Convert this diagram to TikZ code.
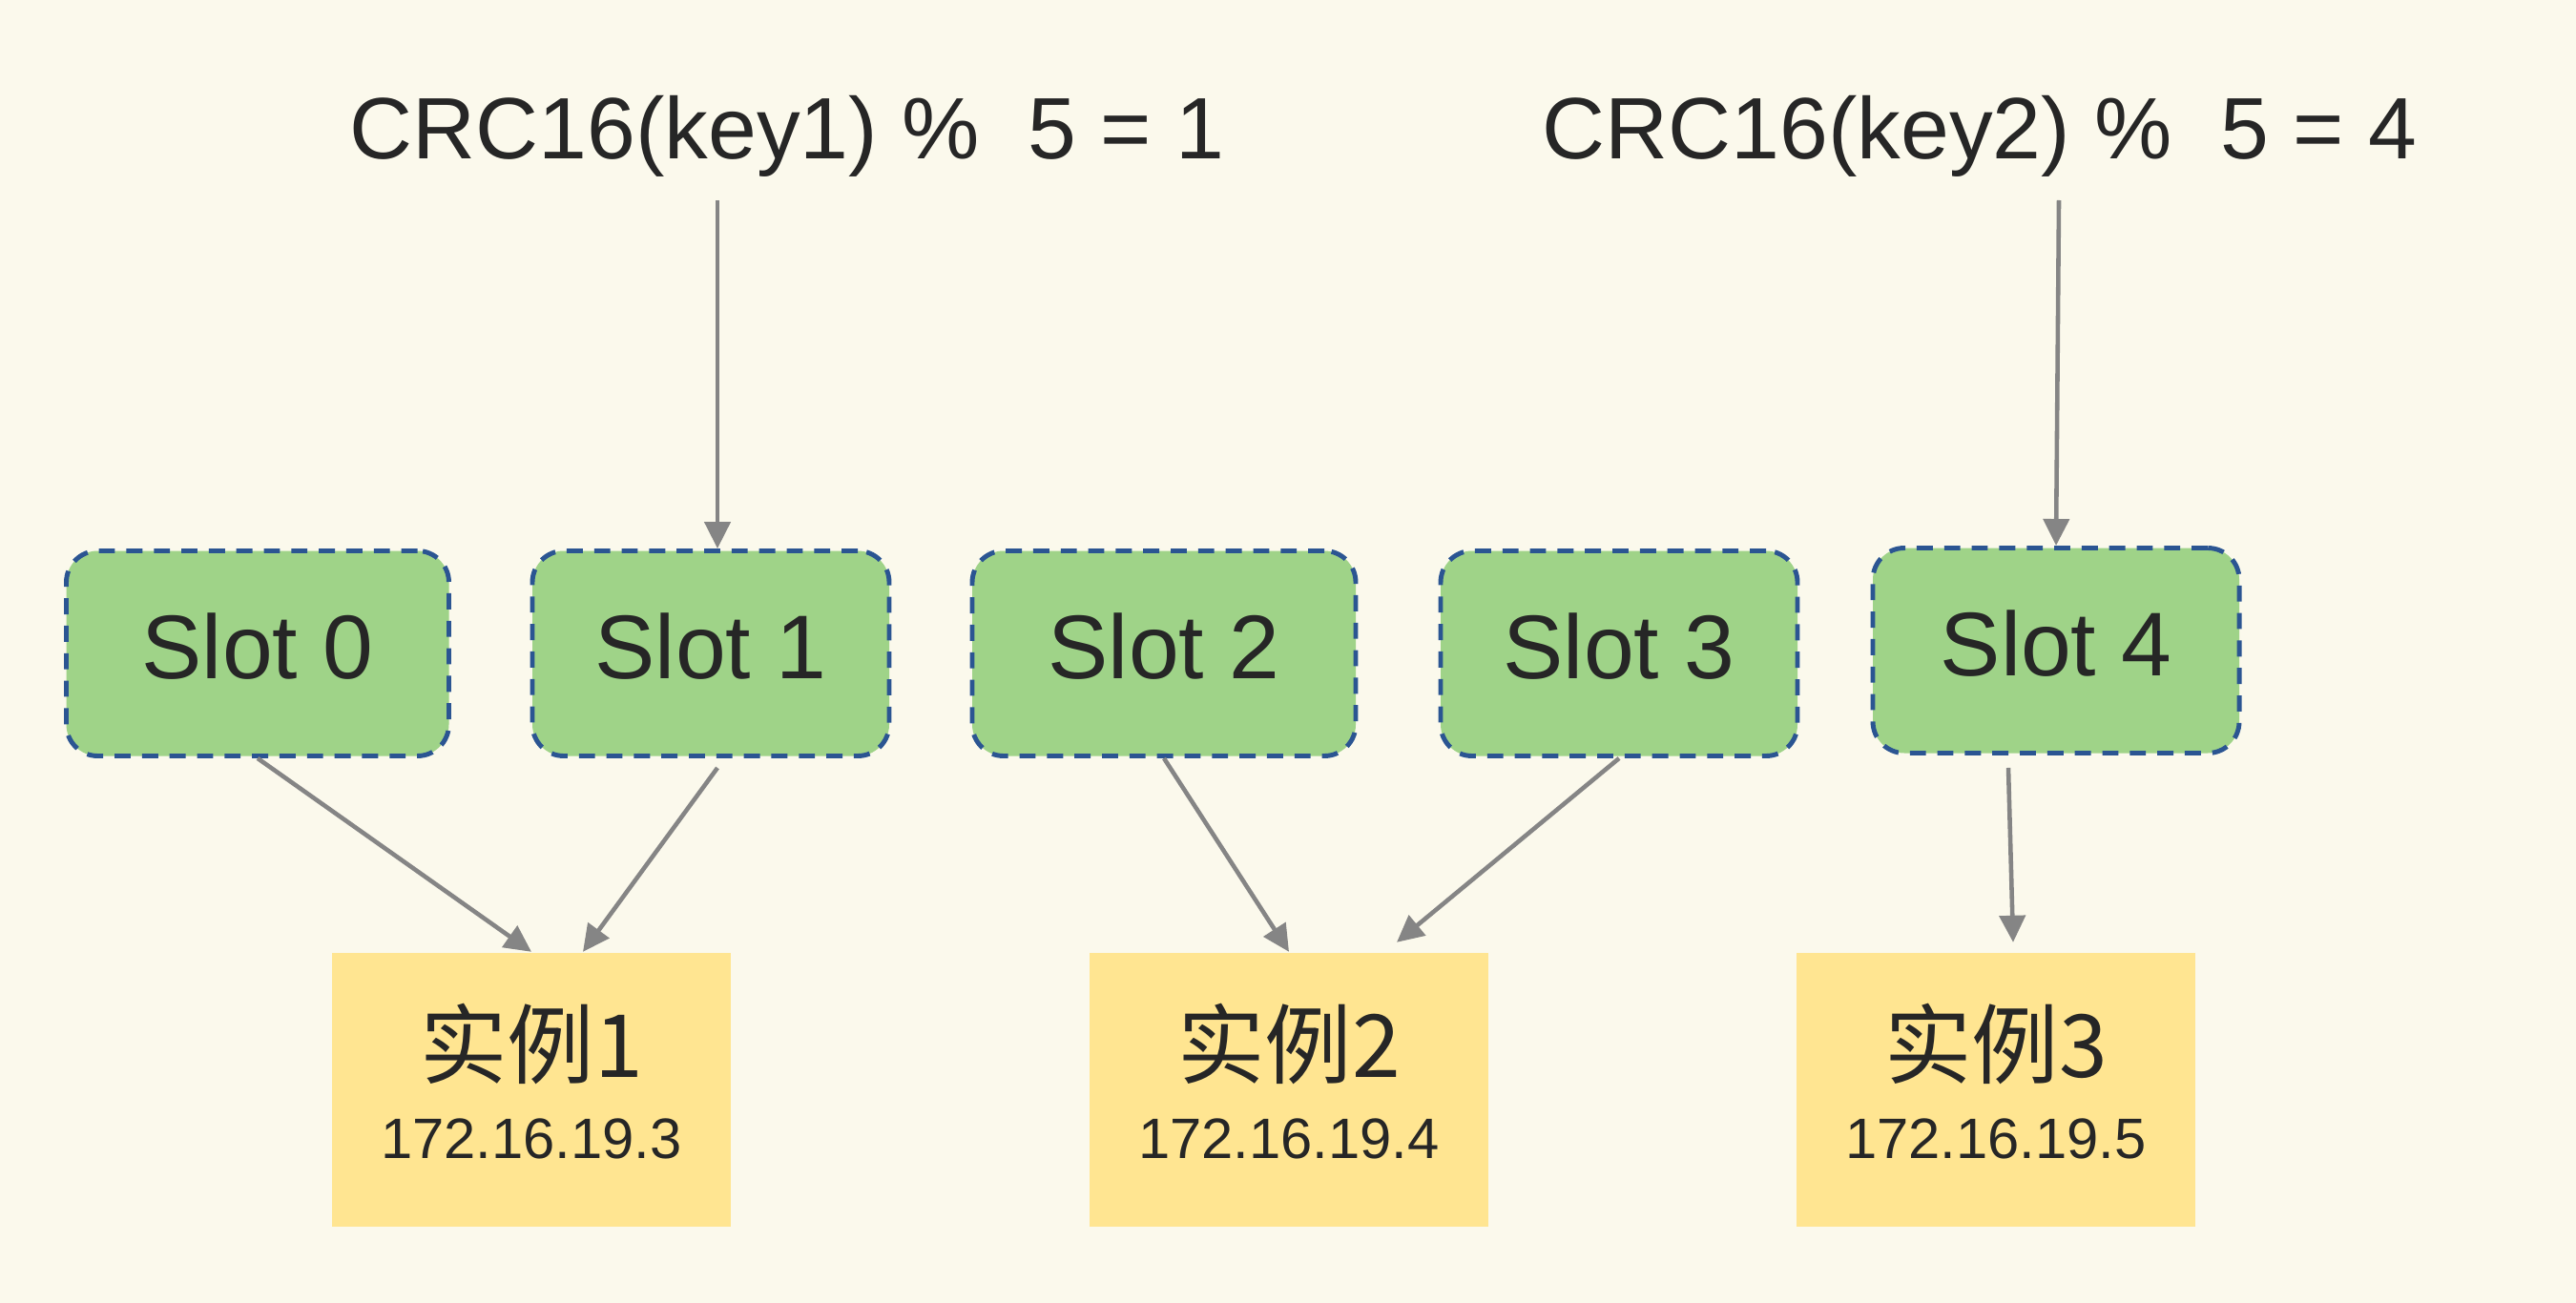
\documentclass[tikz,border=0pt]{standalone}
\usepackage{fontspec}
\setmainfont{Liberation Sans}
\newfontfamily\cjk{Noto Sans CJK SC}
\usepackage{xcolor}
\usetikzlibrary{arrows.meta}
\tikzset{>={Triangle[length=2.8mm,width=2.7mm]}}
\definecolor{bg}{HTML}{FBF9EC}
\definecolor{g1}{HTML}{9FD388}
\definecolor{b1}{HTML}{2B5592}
\definecolor{y1}{HTML}{FFE591}
\definecolor{a1}{HTML}{858585}
\definecolor{t1}{HTML}{262626}
\tikzstyle{hash}=[text=t1,anchor=base,font=\fontsize{26}{30}\selectfont]
\tikzstyle{slot}=[draw=b1,fill=g1,line width=1.4pt,dash pattern=on 4.8pt off 3.4pt,
  rounded corners=0.33cm,minimum height=2.15cm,text depth=0.16cm,text=t1,
  font=\fontsize{27}{30}\selectfont]
\tikzstyle{inst}=[fill=y1,minimum width=4.18cm,minimum height=2.87cm,align=center,
  text depth=0.18cm,text=t1,font=\fontsize{17}{24.2}\selectfont]
\tikzstyle{map}=[->,a1,line width=1.3pt]

\begin{document}
\begin{tikzpicture}
  \fill[bg] (0,0) rectangle (27,-13.66);
  \node[hash] (f1) at (8.25,-1.67) {CRC16(key1) \%\ \ 5 = 1};
  \node[hash] (f2) at (20.75,-1.67) {CRC16(key2) \%\ \ 5 = 4};
  \node[slot,minimum width=4.01cm] (s0) at (2.70,-6.85) {Slot 0};
  \node[slot,minimum width=3.74cm] (s1) at (7.45,-6.85) {Slot 1};
  \node[slot,minimum width=4.02cm] (s2) at (12.20,-6.85) {Slot 2};
  \node[slot,minimum width=3.74cm] (s3) at (16.97,-6.85) {Slot 3};
  \node[slot,minimum width=3.84cm] (s4) at (21.55,-6.82) {Slot 4};
  \node[inst] (i1) at (5.57,-11.42) {{\cjk\fontsize{26}{30}\selectfont 实例1}\\172.16.19.3};
  \node[inst] (i2) at (13.51,-11.42) {{\cjk\fontsize{26}{30}\selectfont 实例2}\\172.16.19.4};
  \node[inst] (i3) at (20.92,-11.42) {{\cjk\fontsize{26}{30}\selectfont 实例3}\\172.16.19.5};
  \coordinate (k1) at (7.52,-2.10);
  \coordinate (k2) at (21.58,-2.10);
  \draw[map] (k1) -- (k1 |- s1.north);
  \draw[map] (k2) -- (s4.north);
  \draw[map] (s0.south) -- (i1.north);
  \draw[map] ([shift={(0.07,-0.1)}]s1.south) -- ([xshift=0.54cm]i1.north);
  \draw[map] (s2.south) -- (i2.north);
  \draw[map] (s3.south) -- ([shift={(1.13,0.1)}]i2.north);
  \draw[map] ([shift={(-0.5,-0.13)}]s4.south) -- ([shift={(0.18,0.1)}]i3.north);
\end{tikzpicture}
\end{document}
